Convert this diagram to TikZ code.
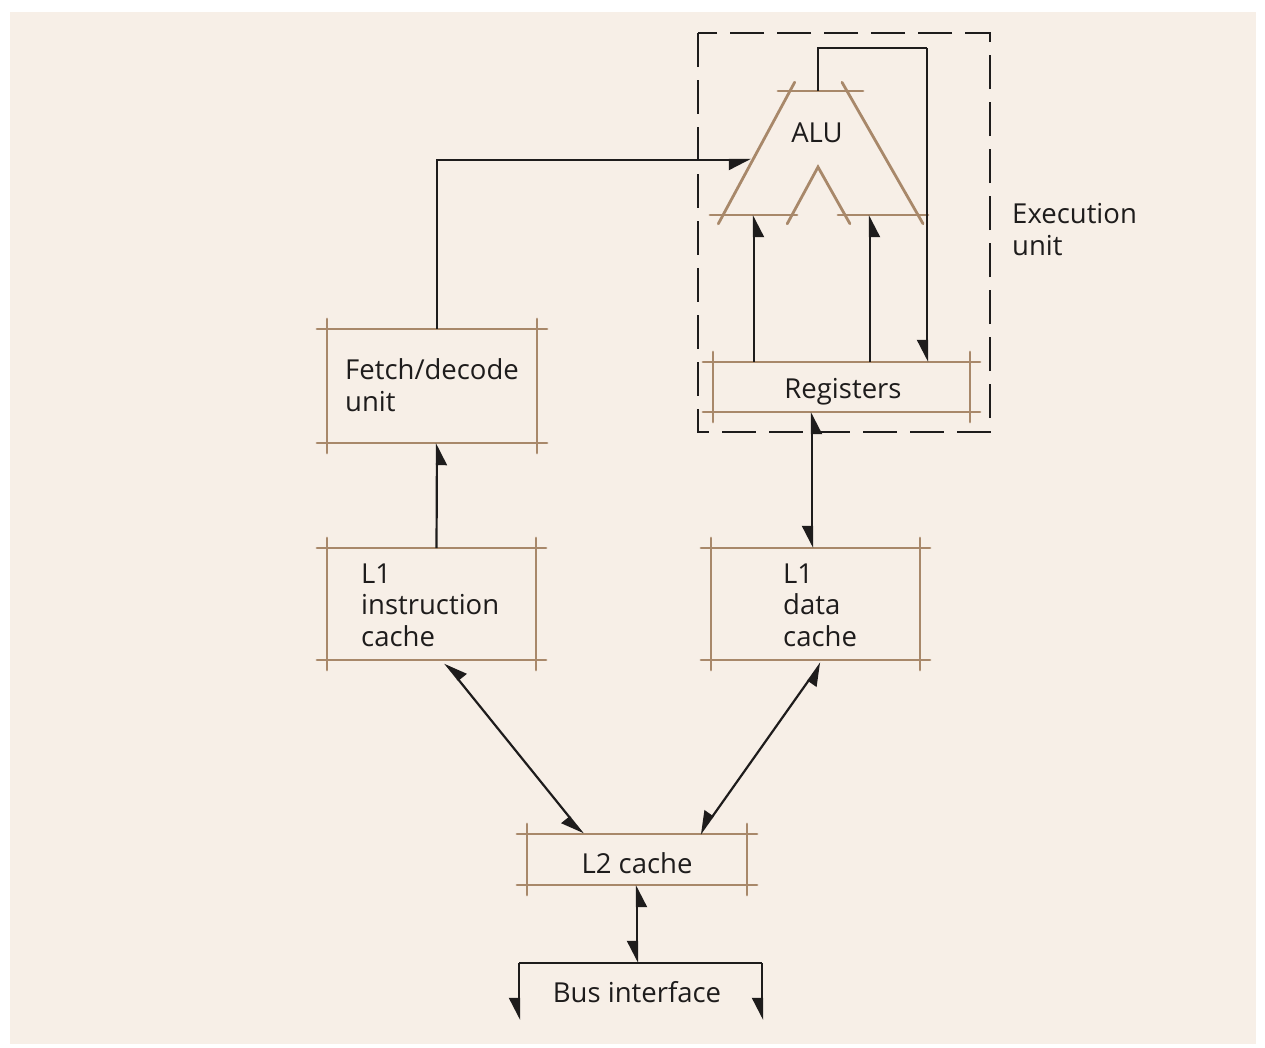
\documentclass[tikz,border=0pt]{standalone}
\usepackage{fontspec}
\setmainfont{Open Sans}
\usetikzlibrary{arrows.meta,calc}
\definecolor{paper}{RGB}{247,239,231}
\definecolor{rulecol}{RGB}{168,136,106}
\definecolor{ink}{RGB}{30,28,28}
\begin{document}
\begin{tikzpicture}[x=1pt,y=-1pt,
  >={Triangle[harpoon,swap,length=20pt,width=20pt]},
  wire/.style={draw=ink,line width=2.2pt},
  rule/.style={draw=rulecol,line width=2.8pt,line cap=round},
  blank/.style={draw=none,inner sep=0pt,outer sep=0pt},
  lbl/.style={inner sep=0pt,text=ink,font=\fontsize{27.5}{31.5}\selectfont,align=left}]

% sheet
\fill[white] (0,0) rectangle (1265,1047);
\useasboundingbox (0,0) rectangle (1265,1047);
\fill[paper] (10,12) rectangle (1256,1044);

% unit boxes
\node[blank,minimum width=210pt,minimum height=114pt] (fetch) at (432,386) {};
\node[blank,minimum width=209pt,minimum height=112pt] (l1i) at (431.5,604) {};
\node[blank,minimum width=209pt,minimum height=112pt] (l1d) at (815.5,604) {};
\node[blank,minimum width=257pt,minimum height=50pt] (regs) at (841.5,387) {};
\node[blank,minimum width=220pt,minimum height=51pt] (l2) at (637,859.5) {};

% box edges run a little past the corners
\foreach \b in {fetch,l1i,l1d,regs,l2}{
  \draw[rule] ([xshift=-10pt]\b.north west) -- ([xshift=10pt]\b.north east);
  \draw[rule] ([xshift=-10pt]\b.south west) -- ([xshift=10pt]\b.south east);
  \draw[rule] ([yshift=10pt]\b.north west) -- ([yshift=-10pt]\b.south west);
  \draw[rule] ([yshift=10pt]\b.north east) -- ([yshift=-10pt]\b.south east);
}

% ALU outline
\draw[rule] (778,91) -- (863,91);
\draw[rule] (794.7,82.2) -- (718.3,223.8);
\draw[rule] (842,82.3) -- (923,223.7);
\draw[rule] (710,215) -- (797,215);
\draw[rule] (838,215) -- (928,215);
\draw[rule,line join=miter] (787.2,223.8) -- (818,167) -- (849.9,223.7);

% execution unit frame
\draw[draw=ink,line width=2pt,dash pattern=on 34pt off 13pt] (698,33) rectangle (990,432);

% connection points
\coordinate (aluTop) at (818,91);
\coordinate (aluInA) at (754,215);
\coordinate (aluInB) at (870,215);
\coordinate (aluCtl) at (751,160);
\coordinate (loop) at (927,48);
\coordinate (busL) at (519,963);
\coordinate (busR) at (762,963);
\coordinate (dataTap) at ([xshift=-3.5pt]l1d.north);
\coordinate (l1iOut) at ([xshift=13.5pt,yshift=-3pt]l1i.south);
\coordinate (l1dOut) at ([xshift=5.5pt,yshift=-3pt]l1d.south);
\coordinate (l2InA) at ([xshift=-54pt]l2.north);
\coordinate (l2InB) at ([xshift=63pt]l2.north);

% connectors
\draw[wire] (aluTop) |- (loop);
\draw[wire,->] (loop) -- (loop |- regs.north);
\draw[wire,->] (regs.north -| aluInA) -- (aluInA);
\draw[wire,->] (regs.north -| aluInB) -- (aluInB);
\draw[wire,->] ([xshift=5pt]fetch.north) |- (aluCtl);
\draw[wire,->] ([xshift=5pt]l1i.north) -- ([xshift=5pt]fetch.south);
\draw[wire,<->] (dataTap |- regs.south) -- (dataTap);
\draw[wire,<->] (l1iOut) -- (l2InA);
\draw[wire,<->] (l1dOut) -- (l2InB);
\draw[wire,<->] (l2.south) -- (l2.south |- busL);
\draw[wire] (busL) -- (busR);
\draw[wire,->] (busL) -- ++(0,57);
\draw[wire,->] (busR) -- ++(0,57);

% labels (base = baseline of the last line)
\node[lbl,anchor=base] (alutxt) at (817,142) {ALU};
\node[lbl,anchor=base west] (exectxt) at (1012,255) {Execution\\unit};
\node[lbl,anchor=base west] (fetchtxt) at (345,411) {Fetch/decode\\unit};
\node[lbl,anchor=base west] (l1itxt) at (361,646) {L1\\instruction\\cache};
\node[lbl,anchor=base west] (l1dtxt) at (783,646) {L1\\data\\cache};
\node[lbl,anchor=base] (regstxt) at (843,398) {Registers};
\node[lbl,anchor=base] (l2txt) at (637,873) {L2 cache};
\node[lbl,anchor=base] (bustxt) at (637,1002) {Bus interface};
\end{tikzpicture}
\end{document}
